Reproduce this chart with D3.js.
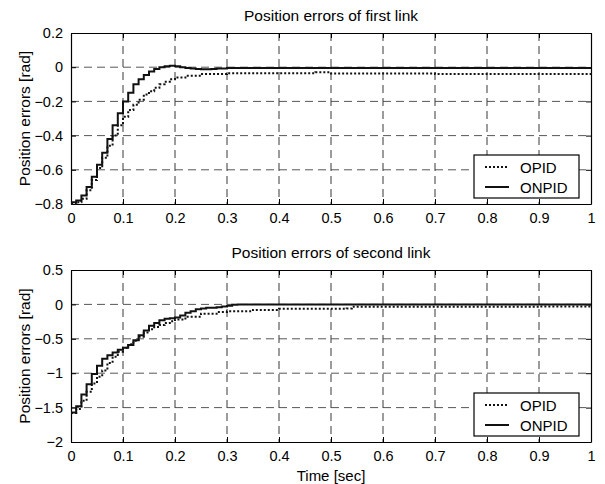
<!DOCTYPE html>
<html>
<head>
<meta charset="utf-8">
<script src="https://cdn.jsdelivr.net/npm/d3@7"></script>
<style>
  body { margin: 0; background: #fff; }
  text { font-family: "Liberation Sans", Arial, sans-serif; fill: #000; }
</style>
</head>
<body>
<div id="chart"></div>
<script>
const w = 605;
const h = 484;

// x ticks shared by both panels
const xTicks = [0, 0.1, 0.2, 0.3, 0.4, 0.5, 0.6, 0.7, 0.8, 0.9, 1];
const seriesNames = ["OPID", "ONPID"];

// first link
const t1Solid = [0, 0.01, 0.02, 0.03, 0.04, 0.05, 0.06, 0.07, 0.08, 0.09, 0.1, 0.11, 0.12, 0.13, 0.14, 0.15, 0.16, 0.17, 0.18, 0.19, 0.2, 0.21, 0.22, 0.23, 0.24, 0.25, 0.26, 0.27, 0.28, 0.3, 1];
const e1Solid = [-0.79, -0.78, -0.75, -0.7, -0.64, -0.57, -0.5, -0.42, -0.34, -0.27, -0.2, -0.15, -0.1, -0.07, -0.045, -0.025, -0.01, 0, 0.005, 0.008, 0.005, 0, -0.005, -0.008, -0.01, -0.012, -0.012, -0.01, -0.008, -0.005, -0.005];
const t1Dot = [0, 0.01, 0.02, 0.03, 0.04, 0.05, 0.06, 0.07, 0.08, 0.09, 0.1, 0.11, 0.12, 0.13, 0.14, 0.15, 0.16, 0.17, 0.18, 0.19, 0.2, 0.22, 0.25, 0.3, 0.4, 0.46, 0.47, 0.5, 0.7, 1];
const e1Dot = [-0.8, -0.79, -0.77, -0.72, -0.66, -0.59, -0.53, -0.46, -0.4, -0.34, -0.29, -0.25, -0.22, -0.19, -0.16, -0.14, -0.12, -0.1, -0.085, -0.07, -0.06, -0.05, -0.04, -0.035, -0.035, -0.035, -0.03, -0.037, -0.04, -0.042];
const y1Ticks = [0.2, 0, -0.2, -0.4, -0.6, -0.8];

// second link
const t2Solid = [0, 0.01, 0.02, 0.03, 0.04, 0.05, 0.06, 0.07, 0.08, 0.09, 0.1, 0.11, 0.12, 0.13, 0.14, 0.15, 0.16, 0.17, 0.18, 0.19, 0.2, 0.21, 0.22, 0.23, 0.24, 0.25, 0.26, 0.27, 0.28, 0.29, 0.3, 0.31, 0.32, 1];
const e2Solid = [-1.57, -1.48, -1.31, -1.16, -1.01, -0.89, -0.79, -0.74, -0.7, -0.66, -0.63, -0.59, -0.52, -0.45, -0.38, -0.31, -0.27, -0.23, -0.21, -0.2, -0.19, -0.16, -0.12, -0.1, -0.07, -0.06, -0.05, -0.05, -0.04, -0.03, -0.02, -0.005, 0, 0];
const t2Dot = [0, 0.01, 0.02, 0.03, 0.04, 0.05, 0.06, 0.07, 0.08, 0.09, 0.1, 0.11, 0.12, 0.13, 0.14, 0.15, 0.16, 0.17, 0.18, 0.19, 0.2, 0.22, 0.25, 0.28, 0.3, 0.35, 0.4, 0.53, 0.54, 0.9, 1];
const e2Dot = [-1.58, -1.52, -1.4, -1.27, -1.15, -1.05, -0.96, -0.85, -0.76, -0.69, -0.63, -0.58, -0.53, -0.47, -0.41, -0.36, -0.33, -0.3, -0.27, -0.245, -0.22, -0.18, -0.135, -0.11, -0.1, -0.08, -0.065, -0.06, -0.035, -0.03, -0.025];
const y2Ticks = [0.5, 0, -0.5, -1, -1.5, -2];

const svg = d3.select("#chart").append("svg").attr("width", w).attr("height", h);

const left = 71, right = 591;
const fs = 15;

function panel(cfg) {
  const x = d3.scaleLinear().domain([0, 1]).range([left, right]);
  const y = d3.scaleLinear().domain(cfg.yDomain).range([cfg.bottom, cfg.top]);
  const g = svg.append("g");

  // grid
  g.selectAll(".vgrid").data(xTicks.slice(1, -1)).enter().append("line")
    .attr("x1", d => x(d)).attr("x2", d => x(d))
    .attr("y1", cfg.top).attr("y2", cfg.bottom)
    .attr("stroke", "#222").attr("stroke-width", 0.9).attr("stroke-dasharray", "8,5");
  g.selectAll(".hgrid").data(cfg.yTicks.slice(1, -1)).enter().append("line")
    .attr("x1", left).attr("x2", right)
    .attr("y1", d => y(d)).attr("y2", d => y(d))
    .attr("stroke", "#444").attr("stroke-width", 0.9).attr("stroke-dasharray", "8,5");

  // axes (inward ticks, MATLAB box)
  const axB = d3.axisBottom(x).tickValues(xTicks).tickSizeInner(-5).tickSizeOuter(0).tickPadding(9).tickFormat(d3.format("~g"));
  const axT = d3.axisTop(x).tickValues(xTicks).tickSizeInner(-5).tickSizeOuter(0).tickFormat("");
  const axL = d3.axisLeft(y).tickValues(cfg.yTicks).tickSizeInner(-5).tickSizeOuter(0).tickPadding(8).tickFormat(d3.format("~g"));
  const axR = d3.axisRight(y).tickValues(cfg.yTicks).tickSizeInner(-5).tickSizeOuter(0).tickFormat("");
  [[axB, `translate(0,${cfg.bottom})`], [axT, `translate(0,${cfg.top})`],
   [axL, `translate(${left},0)`], [axR, `translate(${right},0)`]].forEach(([ax, tr]) => {
    const a = g.append("g").attr("transform", tr).call(ax);
    a.select(".domain").attr("stroke", "#000").attr("stroke-width", 1.2);
    a.selectAll(".tick line").attr("stroke", "#000");
    a.selectAll("text").attr("font-size", 14.5).attr("font-family", "Liberation Sans, Arial, sans-serif");
  });

  const line = d3.line().curve(d3.curveStepAfter).x(d => x(d[0])).y(d => y(d[1]));
  g.append("path").datum(cfg.tDot.map((t, i) => [t, cfg.eDot[i]]))
    .attr("d", line).attr("fill", "none").attr("stroke", "#111")
    .attr("stroke-width", 2).attr("stroke-dasharray", "2,2");
  g.append("path").datum(cfg.tSolid.map((t, i) => [t, cfg.eSolid[i]]))
    .attr("d", line).attr("fill", "none").attr("stroke", "#111").attr("stroke-width", 2);

  // title and y label
  g.append("text").attr("x", (left + right) / 2).attr("y", cfg.top - 12)
    .attr("text-anchor", "middle").attr("font-size", 15.5).text(cfg.title);
  g.append("text").attr("transform", `translate(30,${(cfg.top + cfg.bottom) / 2}) rotate(-90)`)
    .attr("text-anchor", "middle").attr("font-size", 15.5).text("Position errors [rad]");

  // legend
  const lx = 474, ly = cfg.bottom - 49;
  const lg = g.append("g");
  lg.append("rect").attr("x", lx).attr("y", ly).attr("width", 105).attr("height", 43)
    .attr("fill", "#fff").attr("stroke", "#000").attr("stroke-width", 1.2);
  seriesNames.forEach((name, i) => {
    const yy = ly + 12 + i * 20;
    lg.append("line").attr("x1", lx + 11).attr("x2", lx + 35).attr("y1", yy).attr("y2", yy)
      .attr("stroke", "#111").attr("stroke-width", 2)
      .attr("stroke-dasharray", i === 0 ? "2,2" : null);
    lg.append("text").attr("x", lx + 46).attr("y", yy + 5.5).attr("font-size", fs).text(name);
  });
}

panel({ top: 33, bottom: 204, yDomain: [-0.8, 0.2], yTicks: y1Ticks,
  tSolid: t1Solid, eSolid: e1Solid, tDot: t1Dot, eDot: e1Dot,
  title: "Position errors of first link" });
panel({ top: 270, bottom: 442, yDomain: [-2, 0.5], yTicks: y2Ticks,
  tSolid: t2Solid, eSolid: e2Solid, tDot: t2Dot, eDot: e2Dot,
  title: "Position errors of second link" });

svg.append("text").attr("x", (left + right) / 2).attr("y", 481)
  .attr("text-anchor", "middle").attr("font-size", fs).text("Time [sec]");
</script>
</body>
</html>
